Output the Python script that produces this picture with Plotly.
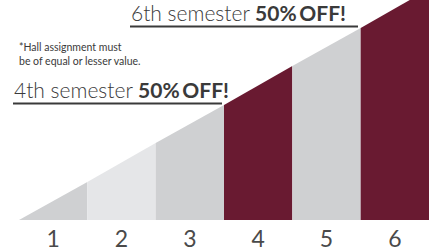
import plotly.graph_objects as go

semesters = [1, 2, 3, 4, 5, 6]
tick_labels = ["1", "2", "3", "4", "5", "6"]
# height of the ramp at each column boundary (left edge of col 1 ... right edge of col 6)
ramp_heights = [0, 38, 77, 115, 154, 192, 231]
col_colors = ["#cfd0d2", "#e5e6e8", "#cfd0d2", "#691a31", "#cfd0d2", "#691a31"]

W, H = 429, 252
ML, MR, MT, MB = 19, 0, 0, 32
PW, PH = W - ML - MR, H - MT - MB


def px_x(p):
    return (p - ML) / PW


def px_y(p):
    return (H - MB - p) / PH


fig = go.Figure()
for i, s in enumerate(semesters):
    x0, x1 = s - 0.5, s + 0.5
    y0, y1 = ramp_heights[i], ramp_heights[i + 1]
    fig.add_trace(go.Scatter(
        x=[x0, x1, x1, x0, x0], y=[0, 0, y1, y0, 0],
        mode="lines", fill="toself", fillcolor=col_colors[i],
        line=dict(width=0, color=col_colors[i]), hoverinfo="skip", showlegend=False))

font_main = "Lato, 'Noto Sans', sans-serif"
txt_color = "#3a3a3a"

fig.add_annotation(x=px_x(13), y=px_y(102.5), xref="paper", yref="paper", xanchor="left", yanchor="bottom",
                   text="4th semester <b>50%\u2009OFF!</b>", showarrow=False,
                   font=dict(family=font_main, size=21, color=txt_color, weight=300),
                   borderpad=0)
fig.add_annotation(x=px_x(130), y=px_y(26), xref="paper", yref="paper", xanchor="left", yanchor="bottom",
                   text="6th semester <b>50%\u2009OFF!</b>", showarrow=False,
                   font=dict(family=font_main, size=21, color=txt_color, weight=300),
                   borderpad=0)
fig.add_annotation(x=px_x(18), y=px_y(40), xref="paper", yref="paper", xanchor="left", yanchor="top",
                   text="*Hall assignment must<br>be of equal or lesser value.", showarrow=False,
                   align="left",
                   font=dict(family=font_main, size=10.5, color=txt_color),
                   borderpad=0)

fig.add_shape(type="line", xref="paper", yref="paper", x0=px_x(13), x1=px_x(222),
              y0=px_y(103.5), y1=px_y(103.5), line=dict(color=txt_color, width=2))
fig.add_shape(type="line", xref="paper", yref="paper", x0=px_x(130), x1=px_x(358),
              y0=px_y(26.5), y1=px_y(26.5), line=dict(color=txt_color, width=2))

fig.update_layout(
    width=W, height=H,
    margin=dict(l=ML, r=MR, t=MT, b=MB, pad=0),
    paper_bgcolor="white", plot_bgcolor="white",
    xaxis=dict(range=[0.5, 6.5], tickvals=semesters, ticktext=tick_labels,
               showgrid=False, zeroline=False, showline=False, ticks="",
               tickfont=dict(family=font_main, size=23, color="#4a4a4a"),
               ticklabelstandoff=3, fixedrange=True),
    yaxis=dict(range=[0, 220], showticklabels=False, showgrid=False,
               zeroline=False, showline=False, fixedrange=True),
)

fig.write_html("out.html", config={"displayModeBar": False},
               post_script="document.body.style.margin='0';")
